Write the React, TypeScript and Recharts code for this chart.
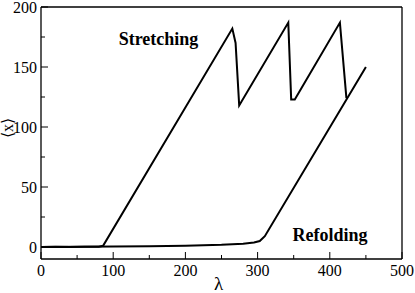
import { LineChart, Line, XAxis, YAxis, ReferenceDot, Label } from "recharts";

// pulling curve (stretching) and release curve (refolding)
const stretchX = [0, 20, 40, 60, 80, 86, 265, 269.5, 274.5, 342.5, 346.5, 351.5, 414, 423];
const stretchY = [0, 0.3, 0, 0.3, 0.2, 1, 182, 170, 118, 187, 123, 123, 187, 124];
const refoldX = [0, 50, 100, 150, 200, 250, 280, 295, 303, 310, 450];
const refoldY = [0, 0.2, 0.4, 0.6, 1, 1.8, 2.8, 3.8, 5, 9, 150];

const xTicks = [0, 50, 100, 150, 200, 250, 300, 350, 400, 450, 500];
const yTicks = [0, 25, 50, 75, 100, 125, 150, 175, 200];

const stretching = stretchX.map((x, i) => ({ x, y: stretchY[i] }));
const refolding = refoldX.map((x, i) => ({ x, y: refoldY[i] }));

const FONT = "Liberation Serif";
const textStyle = { fontFamily: FONT, fontSize: 16, fill: "#000" };

const BottomTick = (props: any) => {
  const { x, y, payload } = props;
  const major = payload.value % 100 === 0;
  return (
    <g>
      <line x1={x} y1={y} x2={x} y2={y - (major ? 7 : 4)} stroke="#000" strokeWidth={1} />
      {major && (
        <text x={x} y={y + 17} textAnchor="middle" style={textStyle}>
          {payload.value}
        </text>
      )}
    </g>
  );
};

const TopTick = (props: any) => {
  const { x, y, payload } = props;
  const major = payload.value % 100 === 0;
  return <line x1={x} y1={y} x2={x} y2={y + (major ? 7 : 4)} stroke="#000" strokeWidth={1} />;
};

const LeftTick = (props: any) => {
  const { x, y, payload } = props;
  const major = payload.value % 50 === 0;
  return (
    <g>
      <line x1={x} y1={y} x2={x + (major ? 7 : 4)} y2={y} stroke="#000" strokeWidth={1} />
      {major && (
        <text x={x - 4} y={y + 5.5} textAnchor="end" style={textStyle}>
          {payload.value}
        </text>
      )}
    </g>
  );
};

const RightTick = (props: any) => {
  const { x, y, payload } = props;
  const major = payload.value % 50 === 0;
  return <line x1={x} y1={y} x2={x - (major ? 7 : 4)} y2={y} stroke="#000" strokeWidth={1} />;
};

const axisLine = { stroke: "#000", strokeWidth: 1.3 };

export default function App() {
  return (
    <div
      style={{
        position: "absolute",
        left: 0,
        top: 0,
        width: 415,
        height: 293,
        background: "#fff",
        fontFamily: FONT,
      }}
    >
      <LineChart width={415} height={293} margin={{ top: 6, right: 12, left: 0, bottom: 0 }}>
        <XAxis
          type="number"
          dataKey="x"
          domain={[0, 500]}
          ticks={xTicks}
          height={34}
          tickSize={0}
          tickMargin={0}
          tickLine={false}
          axisLine={axisLine}
          tick={BottomTick}
          interval={0}
        >
          <Label
            content={(p: any) => {
              const { x, y, width, height } = p.viewBox;
              return (
                <text x={x + width / 2 - 3} y={y + height - 3} textAnchor="middle" style={{ ...textStyle, fontSize: 19 }}>
                  λ
                </text>
              );
            }}
          />
        </XAxis>
        <XAxis
          xAxisId="top"
          orientation="top"
          type="number"
          domain={[0, 500]}
          ticks={xTicks}
          height={1}
          tickSize={0}
          tickMargin={0}
          tickLine={false}
          axisLine={axisLine}
          tick={TopTick}
          interval={0}
        />
        <YAxis
          type="number"
          domain={[-10, 200]}
          ticks={yTicks}
          width={41}
          tickSize={0}
          tickMargin={0}
          tickLine={false}
          axisLine={axisLine}
          tick={LeftTick}
          interval={0}
        >
          <Label
            content={(p: any) => {
              const { x, y, height } = p.viewBox;
              const cx = x + 13;
              const cy = y + height / 2 - 5;
              return (
                <text
                  x={cx}
                  y={cy}
                  transform={`rotate(-90 ${cx} ${cy})`}
                  textAnchor="middle"
                  style={{ ...textStyle, fontSize: 16 }}
                >
                  ⟨x⟩
                </text>
              );
            }}
          />
        </YAxis>
        <YAxis
          yAxisId="right"
          orientation="right"
          type="number"
          domain={[-10, 200]}
          ticks={yTicks}
          width={1}
          tickSize={0}
          tickMargin={0}
          tickLine={false}
          axisLine={axisLine}
          tick={RightTick}
          interval={0}
        />
        <Line
          data={stretching}
          dataKey="y"
          type="linear"
          stroke="#000"
          strokeWidth={2}
          dot={false}
          isAnimationActive={false}
        />
        <Line
          data={refolding}
          dataKey="y"
          type="linear"
          stroke="#000"
          strokeWidth={2}
          dot={false}
          isAnimationActive={false}
        />
        <ReferenceDot x={162.7} y={173.7} r={0} stroke="none" fill="none">
          <Label value="Stretching" position="center" fontSize={18} fontWeight="bold" fontFamily={FONT} fill="#000" />
        </ReferenceDot>
        <ReferenceDot x={400.3} y={10.3} r={0} stroke="none" fill="none">
          <Label value="Refolding" position="center" fontSize={18} fontWeight="bold" fontFamily={FONT} fill="#000" />
        </ReferenceDot>
      </LineChart>
    </div>
  );
}
